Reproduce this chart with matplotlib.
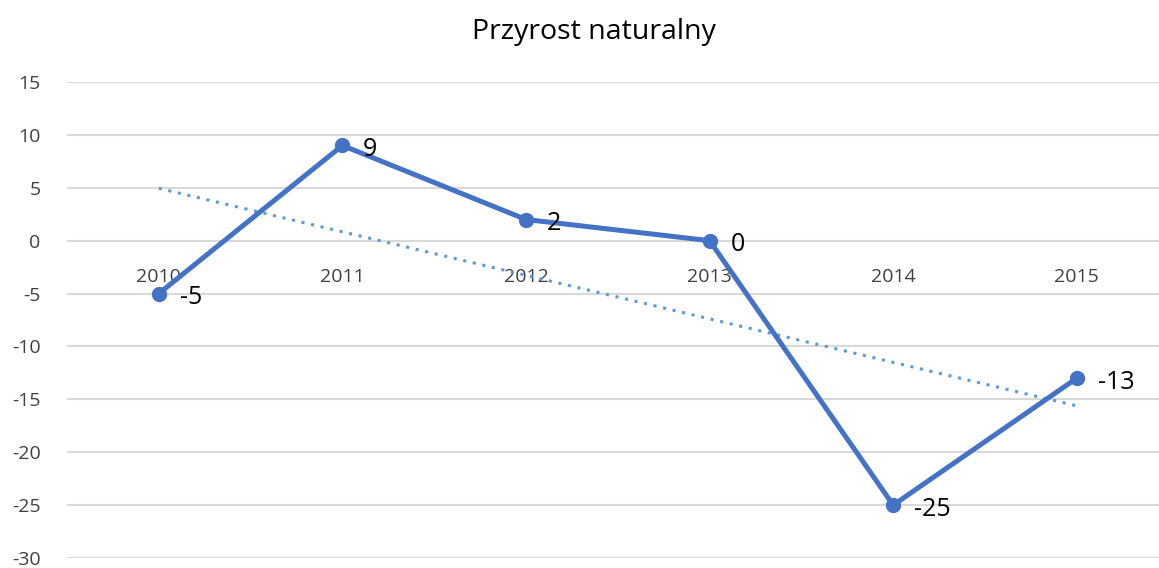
import numpy as np
import matplotlib.pyplot as plt

# Data
years = ['2010', '2011', '2012', '2013', '2014', '2015']
values = [-5, 9, 2, 0, -25, -13]

line_color = "#4472C4"
trend_color = "#5B9BD5"
grid_color = "#D9D9D9"
font = ['Open Sans', 'DejaVu Sans']
plt.rcParams['font.family'] = font
plt.rcParams['axes.unicode_minus'] = False

fig = plt.figure(figsize=(11.59, 5.68), dpi=100)
ax = fig.add_axes([67 / 1159, 1 - 558 / 568, 1101.6 / 1159, 476 / 568])

x = np.arange(len(years))

# linear trendline
k, b = np.polyfit(x, values, 1)
ax.plot(x, k * x + b, linestyle=(0, (1, 2.2)), lw=2.2, color=trend_color, zorder=2)

ax.plot(x, values, '-', lw=3.6, color=line_color, marker='o', markersize=10,
        markeredgecolor=line_color, markerfacecolor=line_color, zorder=3)

for xi, v in zip(x, values):
    ax.annotate(str(v), (xi, v), xytext=(15, -3), textcoords='offset points',
                ha='left', va='center', fontsize=18, color='black')

ax.set_xlim(-0.5, len(years) - 0.5)
ax.set_ylim(-30, 15)
ax.set_yticks(np.arange(-30, 16, 5))
ax.set_xticks(x)
ax.set_xticklabels(years)
ax.grid(axis='y', color=grid_color, lw=1.5)
ax.set_axisbelow(True)

for s in ax.spines.values():
    s.set_visible(False)
ax.spines['bottom'].set_position(('data', 0))
ax.tick_params(axis='x', length=0, pad=20, labelsize=14, colors='#404040')
ax.tick_params(axis='y', length=0, pad=19, labelsize=14, colors='#404040')

fig.text(594 / 1159, 1 - 32 / 568, 'Przyrost naturalny', ha='center', va='center',
         fontsize=20.5, color='black')

fig.savefig('out.png', dpi=100)
